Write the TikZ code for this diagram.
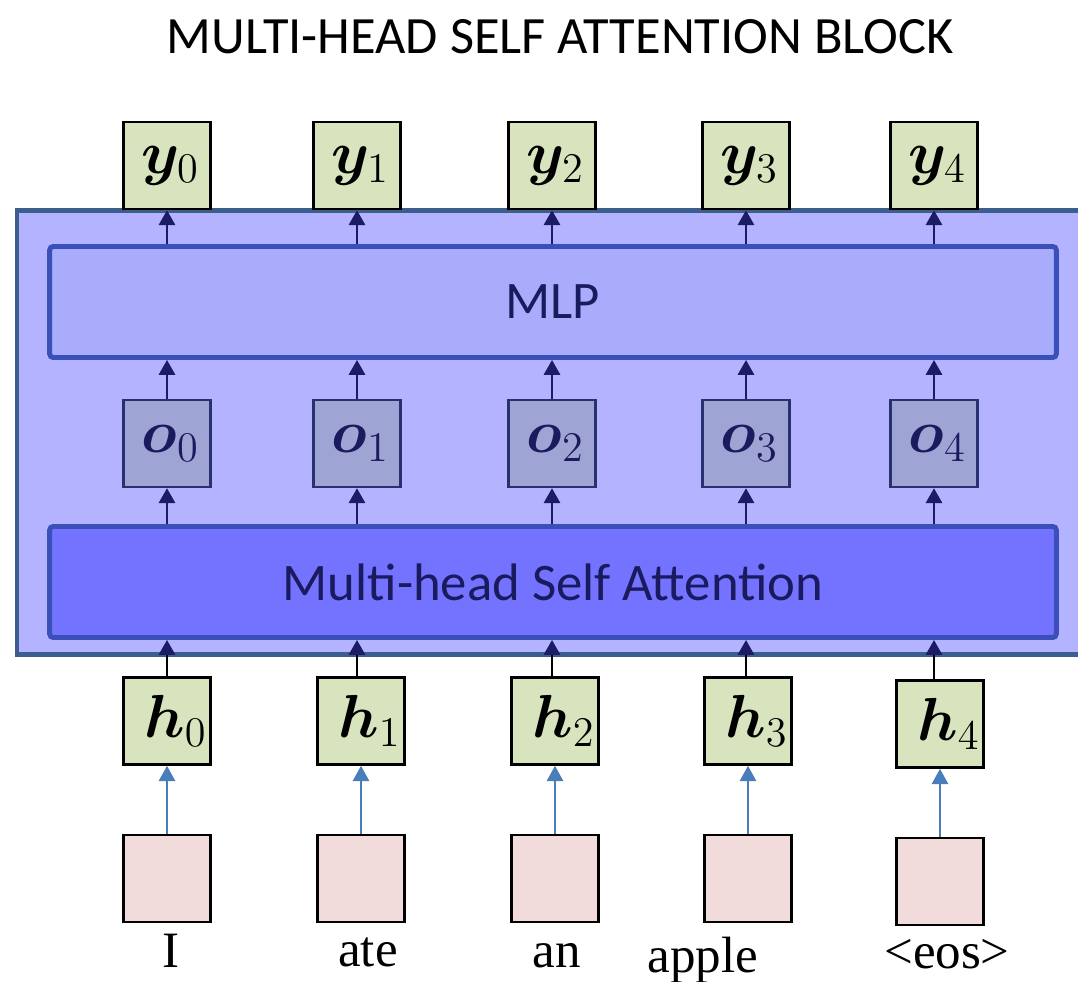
\documentclass[tikz,border=0pt]{standalone}
\usepackage{amsmath,bm}
\usepackage{fontspec}
\setmainfont{Liberation Serif}
\newfontfamily\calibri{Carlito}
\usetikzlibrary{arrows.meta}
\definecolor{blockfill}{HTML}{B3B3FF}
\definecolor{blockborder}{HTML}{3B5E8C}
\definecolor{mlpfill}{HTML}{A8ACFA}
\definecolor{attnfill}{HTML}{7373FF}
\definecolor{layerborder}{HTML}{3A4FB8}
\definecolor{ofill}{HTML}{9EA4D4}
\definecolor{oborder}{HTML}{28306E}
\definecolor{navytext}{HTML}{1A1A5E}
\definecolor{navy}{HTML}{1B1B66}
\definecolor{greenfill}{HTML}{D7E4BD}
\definecolor{pinkfill}{HTML}{F2DCDB}
\definecolor{arrowblue}{HTML}{4A7EBB}

\begin{document}
\begin{tikzpicture}[
  x=0.01cm, y=-0.01cm,
  every node/.style={inner sep=0pt},
  sq/.style={minimum size=0.87cm, line width=0.7pt, font=\fontsize{17}{20}\selectfont},
  ybox/.style={sq, draw=black, fill=greenfill},
  obox/.style={sq, draw=oborder, fill=ofill, text=navytext},
  embbox/.style={sq, draw=black, fill=pinkfill},
  layer/.style={draw=layerborder, line width=1.4pt, rounded corners=1pt,
    minimum width=10.06cm, minimum height=1.11cm, text=navytext,
    font=\calibri\fontsize{15}{18}\selectfont},
  word/.style={anchor=base, font=\fontsize{14.5}{17}\selectfont},
  navyarr/.style={draw=navy, line width=0.6pt, -{Triangle[width=4.6pt,length=4.2pt]}},
  blackarr/.style={draw=black, line width=0.6pt, -{Triangle[width=4.6pt,length=4.2pt,color=navy]}},
  bluearr/.style={draw=arrowblue, line width=0.8pt, -{Triangle[width=4.6pt,length=4.4pt]}}
]
  \clip (0,0) rectangle (1078,982);
  \node[anchor=base, font=\calibri\fontsize{14.9}{18}\selectfont] (title) at (560,54) {MULTI-HEAD SELF ATTENTION BLOCK};

  % the block
  \draw[draw=blockborder, fill=blockfill, line width=1.4pt] (17,210.5) rectangle (1110,654.5);
  \node[layer, fill=mlpfill] (mlp) at (553,302) {MLP};
  \node[layer, fill=attnfill] (mhsa) at (553,582) {Multi-head Self Attention};

  % columns: index / upper x / lower x / lower shift
  \foreach \i/\xu/\xl/\dy in {0/167/167/0, 1/357/361/0, 2/552/555/0, 3/746/748/0, 4/934/940/3} {
    \node[ybox] (y\i) at (\xu,165.5) {\hspace{2pt}$\bm{y}_\i$};
    \node[obox] (o\i) at (\xu,443.5) {\hspace{2pt}$\bm{o}_\i$};
    \node[ybox] (h\i) at (\xl,721+\dy) {\hspace{5pt}$\bm{h}_\i$};
    \node[embbox] (e\i) at (\xl,878.5+\dy) {};
    \draw[navyarr] (mlp.north -| y\i) -- (y\i.south);
    \draw[navyarr] (o\i.north) -- (o\i.north |- mlp.south);
    \draw[navyarr] (mhsa.north -| o\i) -- (o\i.south);
    \draw[blackarr] (h\i.north -| o\i) -- (o\i |- mhsa.south);
    \draw[bluearr] (e\i) -- (h\i);
  }

  % words
  \node[word] (w0) at (171,967) {I};
  \node[word] (w1) at (368,966) {ate};
  \node[word] (w2) at (557,967) {an};
  \node[word] (w3) at (703,972) {apple};
  \node[word] (w4) at (947,968) {<eos>};
\end{tikzpicture}
\end{document}
